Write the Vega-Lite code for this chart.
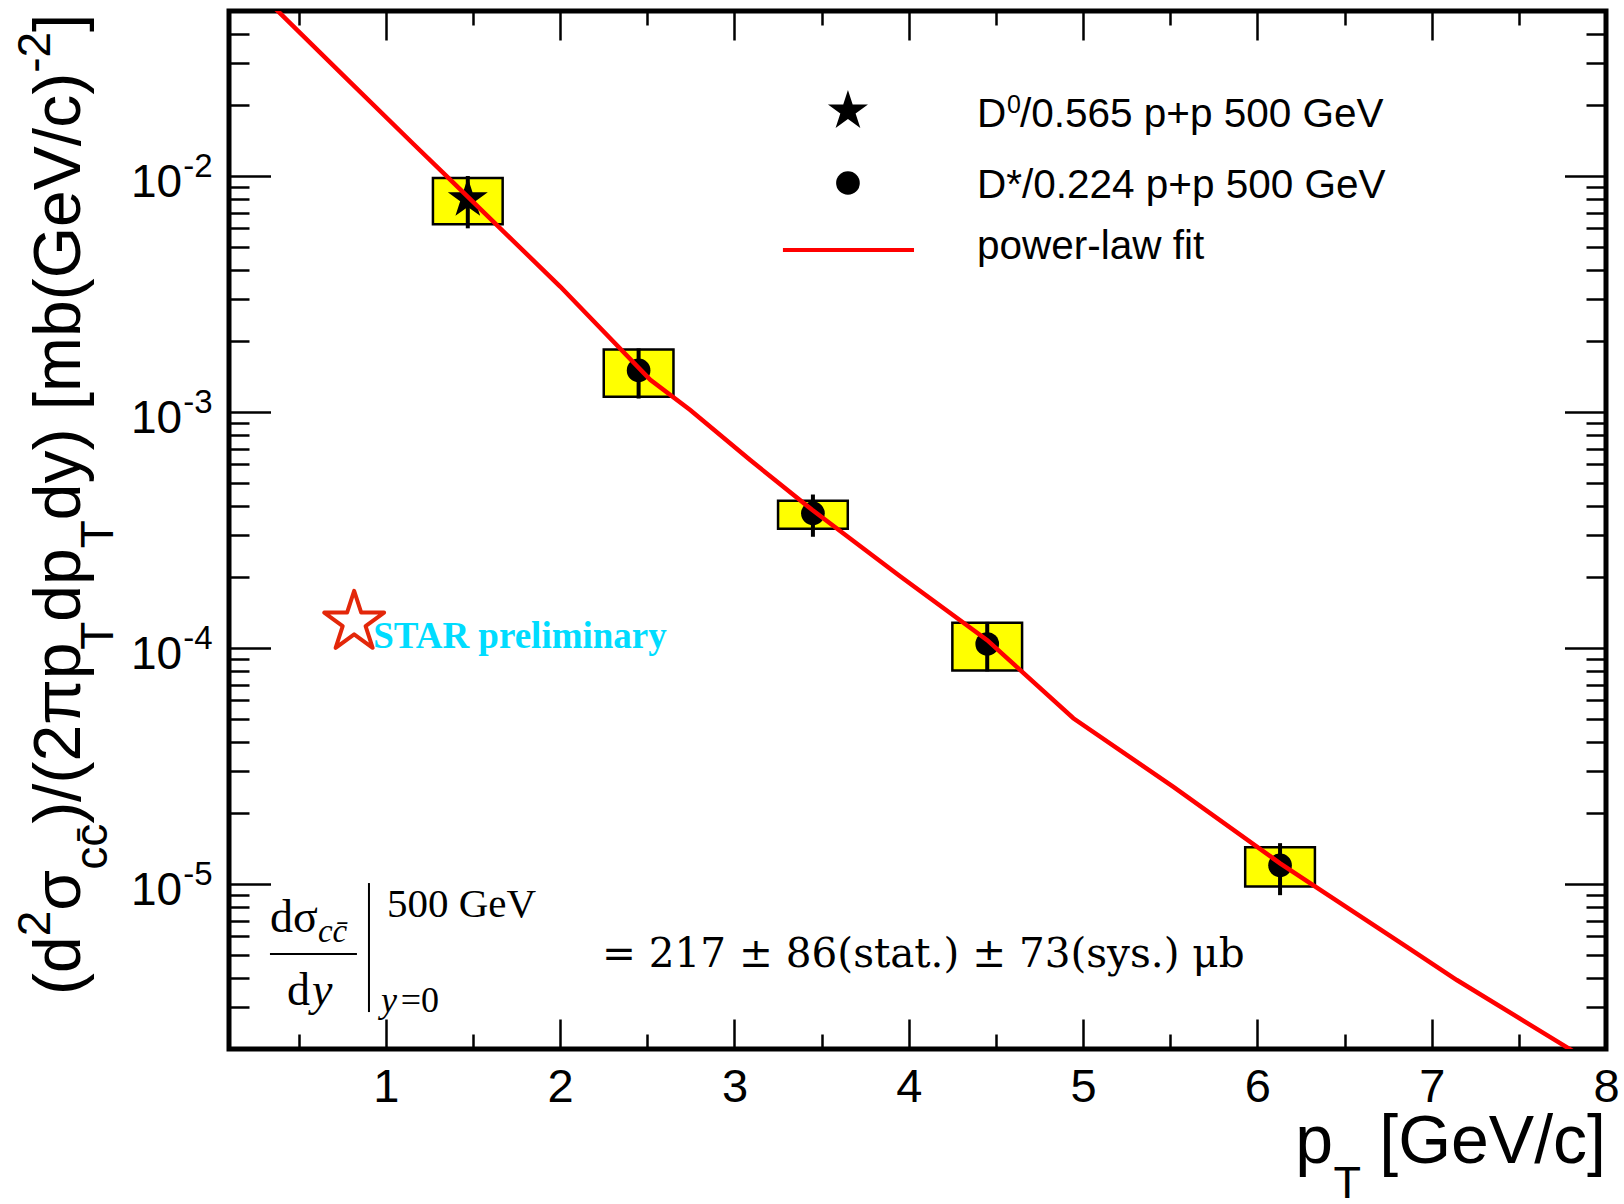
{
  "$schema": "https://vega.github.io/schema/vega-lite/v6.json",
  "width": 1377,
  "height": 1038,
  "autosize": {"type": "none"},
  "padding": {"left": 229, "top": 11, "right": 18, "bottom": 155},
  "background": "white",
  "config": {
    "font": "Liberation Sans",
    "view": {"stroke": "black", "strokeWidth": 5},
    "axis": {"grid": false, "domain": false, "tickColor": "black", "labelColor": "black", "tickWidth": 2.5, "labelFont": "Liberation Sans", "labelOverlap": false},
    "text": {"font": "Liberation Sans", "color": "black"}
  },
  "datasets": {
    "measurements": [
      {"meson": "D0", "pt": 1.47, "ptLow": 1.27, "ptHigh": 1.67, "value": 0.0080, "statLow": 0.0060, "statHigh": 0.0100, "sysLow": 0.00625, "sysHigh": 0.0098},
      {"meson": "D*", "pt": 2.45, "ptLow": 2.25, "ptHigh": 2.65, "value": 0.00150, "statLow": 0.00114, "statHigh": 0.00186, "sysLow": 0.00116, "sysHigh": 0.00184},
      {"meson": "D*", "pt": 3.45, "ptLow": 3.25, "ptHigh": 3.65, "value": 0.000372, "statLow": 0.000296, "statHigh": 0.000447, "sysLow": 0.000320, "sysHigh": 0.000421},
      {"meson": "D*", "pt": 4.45, "ptLow": 4.25, "ptHigh": 4.65, "value": 0.000104, "statLow": 0.0000796, "statHigh": 0.000129, "sysLow": 0.0000803, "sysHigh": 0.000128},
      {"meson": "D*", "pt": 6.13, "ptLow": 5.93, "ptHigh": 6.33, "value": 0.0000120, "statLow": 0.00000897, "statHigh": 0.0000149, "sysLow": 0.00000977, "sysHigh": 0.0000143}
    ],
    "fit": [
      {"pt": 0.293, "value": 0.0578},
      {"pt": 0.776, "value": 0.0258},
      {"pt": 1.158, "value": 0.01366},
      {"pt": 1.369, "value": 0.00964},
      {"pt": 2.0, "value": 0.0034},
      {"pt": 2.517, "value": 0.00137},
      {"pt": 2.746, "value": 0.00102},
      {"pt": 3.09, "value": 0.000626},
      {"pt": 3.445, "value": 0.000385},
      {"pt": 3.952, "value": 0.000201},
      {"pt": 4.45, "value": 0.000108},
      {"pt": 4.944, "value": 0.0000504},
      {"pt": 5.518, "value": 0.0000258},
      {"pt": 6.13, "value": 0.00001224},
      {"pt": 6.857, "value": 0.00000542},
      {"pt": 7.144, "value": 0.00000392},
      {"pt": 7.792, "value": 0.0000020},
      {"pt": 7.9, "value": 0.00000175}
    ]
  },
  "resolve": {"scale": {"x": "shared", "y": "shared"}, "axis": {"x": "independent", "y": "independent"}},
  "layer": [
    {
      "data": {"name": "measurements"},
      "mark": {"type": "rect", "fill": "#ffff00", "stroke": "black", "strokeWidth": 2.5},
      "encoding": {
        "x": {"field": "ptLow", "type": "quantitative",
              "scale": {"domain": [0.1, 8], "nice": false, "zero": false},
              "axis": {"orient": "bottom", "title": null, "values": [1, 2, 3, 4, 5, 6, 7, 8], "format": "d", "tickSize": -30, "labelFontSize": 47, "labelPadding": 45.5, "labelFlush": false, "labelBaseline": "top"}},
        "x2": {"field": "ptHigh"},
        "y": {"field": "sysLow", "type": "quantitative",
              "scale": {"type": "log", "domain": [0.000002, 0.05], "nice": false},
              "axis": {"orient": "left", "title": null, "values": [0.00001, 0.0001, 0.001, 0.01], "labelExpr": "'10'", "tickSize": -41.5, "labelFontSize": 46, "labelPadding": 88.8, "labelAlign": "right", "labelBaseline": "alphabetic", "labelOffset": 20.4}},
        "y2": {"field": "sysHigh"}
      }
    },
    {
      "data": {"name": "measurements"},
      "mark": {"type": "rule", "color": "black", "strokeWidth": 4},
      "encoding": {
        "x": {"field": "pt", "type": "quantitative",
              "axis": {"orient": "bottom", "title": null, "values": [0.5, 1.5, 2.5, 3.5, 4.5, 5.5, 6.5, 7.5], "tickSize": -15, "labels": false}},
        "y": {"field": "statLow", "type": "quantitative",
              "axis": {"orient": "left", "title": null, "values": [0.000003, 0.000004, 0.000005, 0.000006, 0.000007, 0.000008, 0.000009, 0.00002, 0.00003, 0.00004, 0.00005, 0.00006, 0.00007, 0.00008, 0.00009, 0.0002, 0.0003, 0.0004, 0.0005, 0.0006, 0.0007, 0.0008, 0.0009, 0.002, 0.003, 0.004, 0.005, 0.006, 0.007, 0.008, 0.009, 0.02, 0.03, 0.04], "tickSize": -20, "labels": false}},
        "y2": {"field": "statHigh"}
      }
    },
    {
      "data": {"name": "measurements"},
      "transform": [{"filter": "datum.meson === 'D0'"}],
      "mark": {"type": "point", "shape": "M0,-1L0.2245,-0.309L0.951,-0.309L0.363,0.118L0.588,0.809L0,0.382L-0.588,0.809L-0.363,0.118L-0.951,-0.309L-0.2245,-0.309Z", "filled": true, "color": "black", "opacity": 1, "size": 1770, "strokeWidth": 0},
      "encoding": {
        "x": {"field": "pt", "type": "quantitative",
              "axis": {"orient": "top", "title": null, "values": [1, 2, 3, 4, 5, 6, 7], "tickSize": -29, "labels": false}},
        "y": {"field": "value", "type": "quantitative",
              "axis": {"orient": "left", "title": null, "values": [0.00001, 0.0001, 0.001, 0.01], "ticks": false, "tickSize": 0, "labelExpr": "'-' + round(-log(datum.value) / LN10)", "labelFontSize": 33, "labelAlign": "left", "labelBaseline": "alphabetic", "labelPadding": 46.3, "labelOffset": 0.5}}
      }
    },
    {
      "data": {"name": "measurements"},
      "transform": [{"filter": "datum.meson === 'D*'"}],
      "mark": {"type": "circle", "color": "black", "opacity": 1, "size": 560},
      "encoding": {
        "x": {"field": "pt", "type": "quantitative",
              "axis": {"orient": "top", "title": null, "values": [0.5, 1.5, 2.5, 3.5, 4.5, 5.5, 6.5, 7.5], "tickSize": -14, "labels": false}},
        "y": {"field": "value", "type": "quantitative",
              "axis": {"orient": "right", "title": null, "values": [0.00001, 0.0001, 0.001, 0.01], "tickSize": -41.5, "labels": false}}
      }
    },
    {
      "data": {"name": "fit"},
      "mark": {"type": "line", "color": "#ff0000", "strokeWidth": 4.5, "clip": true, "interpolate": "linear"},
      "encoding": {
        "x": {"field": "pt", "type": "quantitative", "axis": null},
        "y": {"field": "value", "type": "quantitative",
              "axis": {"orient": "right", "title": null, "values": [0.000003, 0.000004, 0.000005, 0.000006, 0.000007, 0.000008, 0.000009, 0.00002, 0.00003, 0.00004, 0.00005, 0.00006, 0.00007, 0.00008, 0.00009, 0.0002, 0.0003, 0.0004, 0.0005, 0.0006, 0.0007, 0.0008, 0.0009, 0.002, 0.003, 0.004, 0.005, 0.006, 0.007, 0.008, 0.009, 0.02, 0.03, 0.04], "tickSize": -20, "labels": false}}
      }
    },
    {
      "data": {"values": [{}]},
      "encoding": {
        "x": {"datum": 3.651, "type": "quantitative", "axis": null}
      },
      "layer": [
        {
          "mark": {"type": "point", "shape": "M0,-1L0.2245,-0.309L0.951,-0.309L0.363,0.118L0.588,0.809L0,0.382L-0.588,0.809L-0.363,0.118L-0.951,-0.309L-0.2245,-0.309Z", "filled": true, "color": "black", "opacity": 1, "size": 1770, "strokeWidth": 0},
          "encoding": {"y": {"datum": 0.01885, "type": "quantitative", "axis": null}}
        },
        {
          "mark": {"type": "circle", "color": "black", "opacity": 1, "size": 560},
          "encoding": {"y": {"datum": 0.009337, "type": "quantitative", "axis": null}}
        }
      ]
    },
    {
      "data": {"values": [{}]},
      "mark": {"type": "rule", "color": "#ff0000", "strokeWidth": 4},
      "encoding": {
        "x": {"datum": 3.278, "type": "quantitative", "axis": null},
        "x2": {"datum": 4.030},
        "y": {"datum": 0.004855, "type": "quantitative", "axis": null}
      }
    },
    {
      "data": {"values": [{}]},
      "encoding": {
        "x": {"datum": 4.391, "type": "quantitative", "axis": null}
      },
      "layer": [
        {
          "mark": {"type": "text", "text": "D", "align": "left", "baseline": "alphabetic", "fontSize": 40.5},
          "encoding": {"y": {"datum": 0.01612, "type": "quantitative", "axis": null}}
        },
        {
          "mark": {"type": "text", "text": "0", "align": "left", "baseline": "alphabetic", "fontSize": 25, "dx": 30, "dy": -14},
          "encoding": {"y": {"datum": 0.01612, "type": "quantitative", "axis": null}}
        },
        {
          "mark": {"type": "text", "text": "/0.565 p+p 500 GeV", "align": "left", "baseline": "alphabetic", "fontSize": 40.5, "dx": 43},
          "encoding": {"y": {"datum": 0.01612, "type": "quantitative", "axis": null}}
        },
        {
          "mark": {"type": "text", "text": "D*/0.224 p+p 500 GeV", "align": "left", "baseline": "alphabetic", "fontSize": 40.5},
          "encoding": {"y": {"datum": 0.008065, "type": "quantitative", "axis": null}}
        },
        {
          "mark": {"type": "text", "text": "power-law fit", "align": "left", "baseline": "alphabetic", "fontSize": 40.5},
          "encoding": {"y": {"datum": 0.004446, "type": "quantitative", "axis": null}}
        }
      ]
    },
    {
      "data": {"values": [{}]},
      "mark": {"type": "point", "shape": "M0,-1L0.2245,-0.309L0.951,-0.309L0.363,0.118L0.588,0.809L0,0.382L-0.588,0.809L-0.363,0.118L-0.951,-0.309L-0.2245,-0.309Z", "filled": false, "fill": "white", "stroke": "#e3270a", "strokeWidth": 4, "strokeJoin": "round", "opacity": 1, "size": 3970},
      "encoding": {
        "x": {"datum": 0.818, "type": "quantitative", "axis": null},
        "y": {"datum": 0.0001285, "type": "quantitative", "axis": null}
      }
    },
    {
      "data": {"values": [{}]},
      "mark": {"type": "text", "text": "STAR preliminary", "font": "Liberation Serif", "fontWeight": "bold", "fontSize": 37, "color": "#00dcff", "align": "left", "baseline": "alphabetic"},
      "encoding": {
        "x": {"datum": 0.927, "type": "quantitative", "axis": null},
        "y": {"datum": 0.0001004, "type": "quantitative", "axis": null}
      }
    },
    {
      "data": {"values": [{}]},
      "layer": [
        {
          "mark": {"type": "text", "text": "dσ", "font": "Liberation Serif", "fontSize": 46, "align": "left", "baseline": "alphabetic"},
          "encoding": {"x": {"datum": 0.335, "type": "quantitative", "axis": null}, "y": {"datum": 0.000006256, "type": "quantitative", "axis": null}}
        },
        {
          "mark": {"type": "text", "text": "cc̄", "font": "Liberation Serif", "fontStyle": "italic", "fontSize": 33, "align": "left", "baseline": "alphabetic"},
          "encoding": {"x": {"datum": 0.61, "type": "quantitative", "axis": null}, "y": {"datum": 0.000005675, "type": "quantitative", "axis": null}}
        },
        {
          "mark": {"type": "rule", "color": "black", "strokeWidth": 2},
          "encoding": {"x": {"datum": 0.335, "type": "quantitative", "axis": null}, "x2": {"datum": 0.834}, "y": {"datum": 0.000005049, "type": "quantitative", "axis": null}}
        },
        {
          "mark": {"type": "text", "text": "d", "font": "Liberation Serif", "fontSize": 46, "align": "left", "baseline": "alphabetic"},
          "encoding": {"x": {"datum": 0.433, "type": "quantitative", "axis": null}, "y": {"datum": 0.000003069, "type": "quantitative", "axis": null}}
        },
        {
          "mark": {"type": "text", "text": "y", "font": "Liberation Serif", "fontStyle": "italic", "fontSize": 46, "align": "left", "baseline": "alphabetic"},
          "encoding": {"x": {"datum": 0.576, "type": "quantitative", "axis": null}, "y": {"datum": 0.000003069, "type": "quantitative", "axis": null}}
        },
        {
          "mark": {"type": "rule", "color": "black", "strokeWidth": 2},
          "encoding": {"x": {"datum": 0.903, "type": "quantitative", "axis": null}, "y": {"datum": 0.000010095, "type": "quantitative", "axis": null}, "y2": {"datum": 0.000002868}}
        },
        {
          "mark": {"type": "text", "text": "500 GeV", "font": "Liberation Serif", "fontSize": 41, "align": "left", "baseline": "alphabetic"},
          "encoding": {"x": {"datum": 1.0065, "type": "quantitative", "axis": null}, "y": {"datum": 0.000007244, "type": "quantitative", "axis": null}}
        },
        {
          "mark": {"type": "text", "text": "y", "font": "Liberation Serif", "fontStyle": "italic", "fontSize": 36, "align": "left", "baseline": "alphabetic"},
          "encoding": {"x": {"datum": 0.972, "type": "quantitative", "axis": null}, "y": {"datum": 0.000002868, "type": "quantitative", "axis": null}}
        },
        {
          "mark": {"type": "text", "text": "=0", "font": "Liberation Serif", "fontSize": 36, "align": "left", "baseline": "alphabetic"},
          "encoding": {"x": {"datum": 1.085, "type": "quantitative", "axis": null}, "y": {"datum": 0.000002868, "type": "quantitative", "axis": null}}
        },
        {
          "mark": {"type": "text", "text": "= 217 ± 86(stat.) ± 73(sys.) μb", "font": "DejaVu Serif", "fontSize": 40.5, "align": "left", "baseline": "alphabetic"},
          "encoding": {"x": {"datum": 2.24, "type": "quantitative", "axis": null}, "y": {"datum": 0.000004447, "type": "quantitative", "axis": null}}
        }
      ]
    },
    {
      "data": {"values": [{}]},
      "encoding": {
        "x": {"datum": -0.755, "type": "quantitative", "axis": null},
        "y": {"datum": 0.000003385, "type": "quantitative", "axis": null}
      },
      "layer": [
        {"mark": {"type": "text", "text": "(d", "angle": 270, "align": "left", "baseline": "alphabetic", "fontSize": 66}},
        {"mark": {"type": "text", "text": "2", "angle": 270, "align": "left", "baseline": "alphabetic", "fontSize": 46, "dx": 58.7, "dy": -30}},
        {"mark": {"type": "text", "text": "σ", "angle": 270, "align": "left", "baseline": "alphabetic", "fontSize": 66, "dx": 84.3}},
        {"mark": {"type": "text", "text": "cc̄", "angle": 270, "align": "left", "baseline": "alphabetic", "fontSize": 46, "dx": 125.2, "dy": 27}},
        {"mark": {"type": "text", "text": ")/(2πp", "angle": 270, "align": "left", "baseline": "alphabetic", "fontSize": 66, "dx": 171.2}},
        {"mark": {"type": "text", "text": "T", "angle": 270, "align": "left", "baseline": "alphabetic", "fontSize": 46, "dx": 345.2, "dy": 33}},
        {"mark": {"type": "text", "text": "dp", "angle": 270, "align": "left", "baseline": "alphabetic", "fontSize": 66, "dx": 373.3}},
        {"mark": {"type": "text", "text": "T", "angle": 270, "align": "left", "baseline": "alphabetic", "fontSize": 46, "dx": 446.7, "dy": 33}},
        {"mark": {"type": "text", "text": "dy) [mb(GeV/c)", "angle": 270, "align": "left", "baseline": "alphabetic", "fontSize": 66, "dx": 474.8}},
        {"mark": {"type": "text", "text": "-2", "angle": 270, "align": "left", "baseline": "alphabetic", "fontSize": 46, "dx": 922.2, "dy": -30}},
        {"mark": {"type": "text", "text": "]", "angle": 270, "align": "left", "baseline": "alphabetic", "fontSize": 66, "dx": 963.1}}
      ]
    },
    {
      "data": {"values": [{}]},
      "encoding": {
        "x": {"datum": 8, "type": "quantitative", "axis": null},
        "y": {"datum": 0.000000657, "type": "quantitative", "axis": null}
      },
      "layer": [
        {"mark": {"type": "text", "text": "[GeV/c]", "align": "right", "baseline": "alphabetic", "fontSize": 68}},
        {"mark": {"type": "text", "text": "T", "align": "right", "baseline": "alphabetic", "fontSize": 45, "dx": -245, "dy": 35}},
        {"mark": {"type": "text", "text": "p", "align": "right", "baseline": "alphabetic", "fontSize": 68, "dx": -273}}
      ]
    }
  ]
}
